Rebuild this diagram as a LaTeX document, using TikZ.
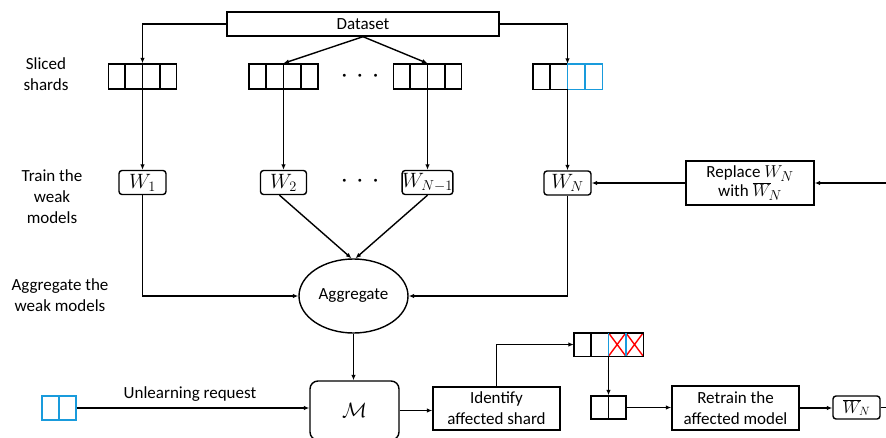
\documentclass[tikz,border=0pt]{standalone}
\usepackage{fontspec}
\setmainfont{Carlito}
\usetikzlibrary{arrows.meta,calc,shapes.geometric}
\definecolor{shardblue}{RGB}{25,155,220}
\newcommand\cellsplit[3][black]{%
  \pgfmathtruncatemacro\cellm{#3-1}%
  \foreach \k in {1,...,\cellm}{%
    \draw[ln,#1] ($(#2.north west)!\k/#3!(#2.north east)$) -- ($(#2.south west)!\k/#3!(#2.south east)$);}%
}
\begin{document}
\begin{tikzpicture}[x=1pt,y=-1pt,
  ln/.style={line width=1.4pt},
  arr/.style={ln,-{Latex[length=5.5pt,width=4.5pt]}},
  box/.style={draw,ln,rectangle,inner sep=0pt,align=center,font=\fontsize{17}{21}\selectfont},
  rbox/.style={box,rounded corners=3pt,font=\fontsize{20}{20}\selectfont},
  shard/.style={draw,ln,rectangle,inner sep=0pt},
  lab/.style={align=center,font=\fontsize{17}{21}\selectfont,inner sep=0pt},
  dots/.style={font=\fontsize{7}{7}\selectfont,inner sep=0pt}]
\useasboundingbox (0,0) rectangle (886,437);
\clip (0,0) rectangle (886,437);

% dataset and shards
\node[box,minimum width=272,minimum height=24] (ds) at (363,24) {Dataset};
\node[shard,minimum width=68,minimum height=25] (s1) at (142.5,76.5) {};
\node[shard,minimum width=69,minimum height=25] (s2) at (283.5,76.5) {};
\node[shard,minimum width=68,minimum height=25] (s3) at (427.5,76.5) {};
\node[minimum width=69,minimum height=25,inner sep=0pt] (s4) at (567.5,76.5) {};
\cellsplit{s1}{4}
\cellsplit{s2}{4}
\cellsplit{s3}{4}
\draw[ln] (s4.north) -- (s4.north west) -- (s4.south west) -- (s4.south);
\draw[ln] ($(s4.north west)!1/4!(s4.north east)$) -- ($(s4.south west)!1/4!(s4.south east)$);
\draw[ln,shardblue] (s4.north) rectangle (s4.south east);
\draw[ln,shardblue] ($(s4.north west)!3/4!(s4.north east)$) -- ($(s4.south west)!3/4!(s4.south east)$);
\node[dots] (d1) at (360,76) {$\bullet$\hspace{11.5pt}$\bullet$\hspace{11.5pt}$\bullet$};

% weak models
\node[rbox,minimum width=47,minimum height=24] (w1) at (142.5,182.5) {$W_1$};
\node[rbox,minimum width=46,minimum height=24] (w2) at (283.5,182.5) {$W_2$};
\node[rbox,minimum width=48,minimum height=24] (w3) at (427.5,182.5) {$W_{N-1}$};
\node[rbox,minimum width=47,minimum height=24] (w4) at (567.5,183) {$W_N$};
\node[dots] (d2) at (360,181) {$\bullet$\hspace{11.5pt}$\bullet$\hspace{11.5pt}$\bullet$};
\node[box,minimum width=128,minimum height=44] (rep) at (750,183) {Replace {\fontsize{19}{19}\selectfont$W_N$}\\[-2pt]with {\fontsize{19}{19}\selectfont$\overline{W}_{\!N}$}};
\coordinate (rin) at (886,183);

% aggregate
\node[draw,ln,ellipse,minimum width=109,minimum height=74,inner sep=0pt,font=\fontsize{17}{21}\selectfont] (agg) at (353.5,296) {Aggregate};

% bottom row
\node[box,rounded corners=8pt,minimum width=89,minimum height=59,font=\fontsize{20}{20}\selectfont] (M) at (354.5,410.5) {$\mathcal{M}$};
\node[shard,shardblue,minimum width=34,minimum height=24] (us) at (59,408) {};
\cellsplit[shardblue]{us}{2}
\node[lab] (ul) at (190,394) {Unlearning request};
\node[box,minimum width=127,minimum height=43] (id) at (496.5,408.5) {Identify\\affected shard};
\node[minimum width=69,minimum height=23,inner sep=0pt] (s5) at (608.5,344.5) {};
\draw[ln,red] ($(s5.north west)!1/2!(s5.north east)$) -- ($(s5.south west)!3/4!(s5.south east)$)
              ($(s5.south west)!1/2!(s5.south east)$) -- ($(s5.north west)!3/4!(s5.north east)$)
              ($(s5.north west)!3/4!(s5.north east)$) -- (s5.south east)
              ($(s5.south west)!3/4!(s5.south east)$) -- (s5.north east);
\draw[ln] (s5.north west) rectangle (s5.south east);
\draw[ln] ($(s5.north west)!1/4!(s5.north east)$) -- ($(s5.south west)!1/4!(s5.south east)$);
\draw[ln,shardblue] ($(s5.north west)!1/2!(s5.north east)$) -- ($(s5.south west)!1/2!(s5.south east)$)
                    ($(s5.north west)!3/4!(s5.north east)$) -- ($(s5.south west)!3/4!(s5.south east)$);
\node[shard,minimum width=35,minimum height=23] (ss) at (608.5,407.5) {};
\cellsplit{ss}{2}
\node[box,minimum width=127,minimum height=44] (rt) at (735.5,408) {Retrain the\\affected model};
\node[rbox,minimum width=47,minimum height=23,font=\fontsize{18}{18}\selectfont] (wb) at (856.5,407.5) {$\overline{W}_{\!N}$};
\coordinate (wout) at (886,407.5);

% left labels
\node[lab] (l1) at (46,74) {Sliced\\shards};
\node[lab] (l2) at (52,197) {Train the\\weak\\models};
\node[lab] (l3) at (60,295) {Aggregate the\\weak models};

% connectors
\draw[arr] (ds.west) -| (s1.north);
\draw[arr] (ds.east) -| (s4.north);
\draw[arr] (ds.south) -- (s2.north);
\draw[arr] (ds.south) -- (s3.north);
\draw[arr] (s1.south) -- (w1.north);
\draw[arr] (s2.south) -- (w2.north);
\draw[arr] (s3.south) -- (w3.north);
\draw[arr] (s4.south) -- (w4.north);
\draw[arr] (rep.west) -- (w4.east);
\draw[arr] (rin) -- (rep.east);
\draw[arr] (w1.south) |- (agg.west);
\draw[arr] (w4.south) |- (agg.east);
\draw[arr] ([xshift=-4pt]w2.south) -- ([xshift=-2pt]agg.north);
\draw[arr] (w3.south) -- ([xshift=2pt]agg.north);
\draw[arr] (agg.south) -- (agg.south |- M.north);
\draw[arr] (us.east) -- (us.east -| M.west);
\draw[arr] (M.east) -- (M.east -| id.west);
\draw[arr] (id.north) |- (s5.west);
\draw[arr] (s5.south) -- (ss.north);
\draw[arr] (ss.east) -- (ss.east -| rt.west);
\draw[arr] (rt.east) -- (rt.east -| wb.west);
\draw[ln] (wb.east) -- (wout);
\end{tikzpicture}
\end{document}
